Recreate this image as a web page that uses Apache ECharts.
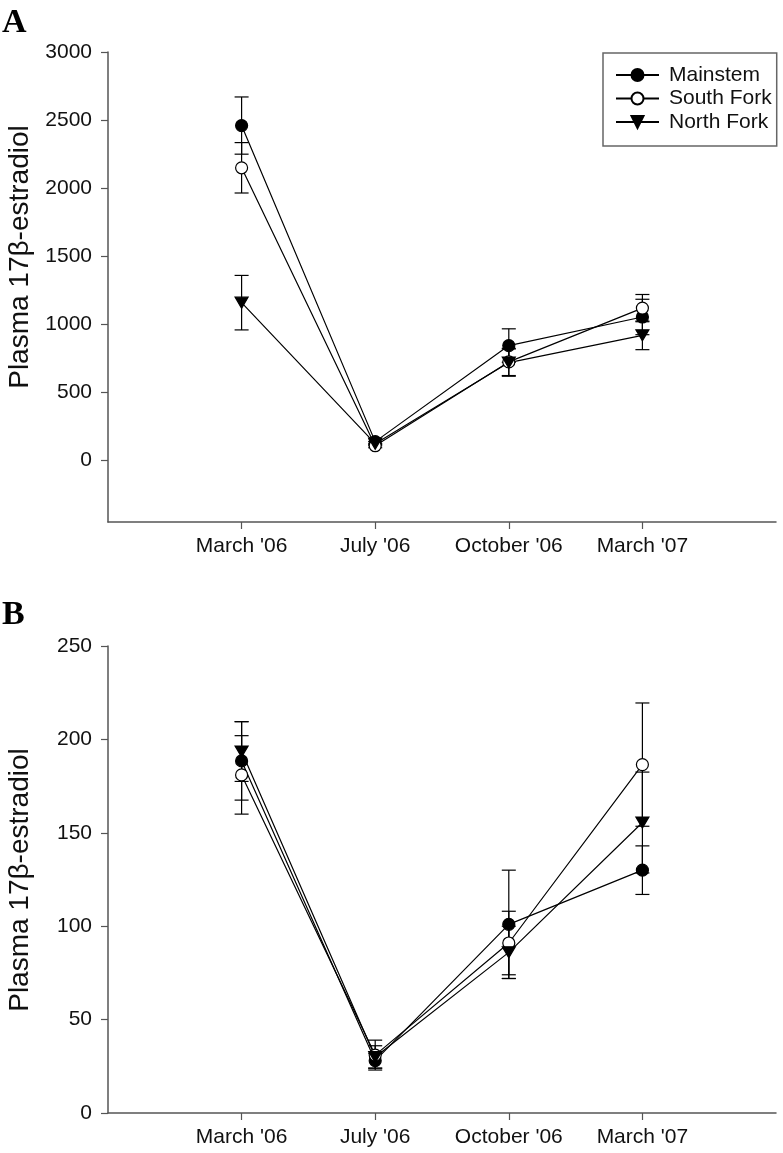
<!DOCTYPE html>
<html>
<head>
<meta charset="utf-8">
<script src="https://cdn.jsdelivr.net/npm/echarts@6/dist/echarts.min.js"></script>
<style>
html,body{margin:0;padding:0;background:#fff;}
#c{width:783px;height:1153px;}
</style>
</head>
<body>
<div id="c"></div>
<script>
const categories = ["March '06", "July '06", "October '06", "March '07"];
const seriesNames = ['Mainstem', 'South Fork', 'North Fork'];

// Panel A
const aMainstem = [2460, 140, 845, 1055];
const aMainstemErr = [210, 20, 123, 130];
const aSouthFork = [2150, 110, 725, 1120];
const aSouthForkErr = [185, 15, 100, 100];
const aNorthFork = [1160, 125, 720, 920];
const aNorthForkErr = [200, 15, 100, 105];
const aYTicks = [0, 500, 1000, 1500, 2000, 2500, 3000];

// Panel B
const bMainstem = [188.5, 28, 101, 130];
const bMainstemErr = [21, 4, 29, 13];
const bSouthFork = [181, 31, 91, 186.5];
const bSouthForkErr = [21, 8, 17, 33];
const bNorthFork = [193.5, 30, 86, 155.5];
const bNorthForkErr = [16, 6, 14, 27];
const bYTicks = [0, 50, 100, 150, 200, 250];

const yTitle = 'Plasma 17\u03b2-estradiol';
const FONT = 'Liberation Sans, Arial, Helvetica, sans-serif';
const xPos = categories.map((c, i) => i + 1);

const chart = echarts.init(document.getElementById('c'), null, {renderer: 'canvas'});

function xAxis(gi) {
  return {
    type: 'value', gridIndex: gi, min: 0, max: 5,
    axisLine: {show: true, onZero: false, lineStyle: {color: '#555', width: 1.5}},
    axisTick: {show: true, customValues: xPos, length: 7, inside: false, lineStyle: {color: '#555', width: 1.2}},
    axisLabel: {show: true, customValues: xPos, margin: 14, color: '#111', fontSize: 21, fontFamily: FONT,
      formatter: v => categories[Math.round(v) - 1] || ''},
    splitLine: {show: false}
  };
}
function yAxis(gi, min, max, ticks) {
  return {
    type: 'value', gridIndex: gi, min: min, max: max,
    axisLine: {show: true, lineStyle: {color: '#555', width: 1.5}},
    axisTick: {show: true, customValues: ticks, length: 7, lineStyle: {color: '#555', width: 1.2}},
    axisLabel: {show: true, customValues: ticks, margin: 16, color: '#111', fontSize: 21, fontFamily: FONT,
      formatter: v => String(v)},
    splitLine: {show: false}
  };
}

const symbols = [
  {symbol: 'circle', symbolSize: 12, symbolRotate: 0, fill: '#000'},
  {symbol: 'circle', symbolSize: 12, symbolRotate: 0, fill: '#fff'},
  {symbol: 'triangle', symbolSize: [13, 11], symbolRotate: 180, fill: '#000'}
];

function lineSeries(gi, idx, vals) {
  const s = symbols[idx];
  return {
    type: 'line', name: seriesNames[idx], xAxisIndex: gi, yAxisIndex: gi,
    data: vals.map((v, i) => [xPos[i], v]),
    symbol: s.symbol, symbolSize: s.symbolSize, symbolRotate: s.symbolRotate,
    showAllSymbol: true, animation: false, z: 5,
    lineStyle: {color: '#000', width: 1.2},
    itemStyle: {color: s.fill, borderColor: '#000', borderWidth: 1.2}
  };
}
function errSeries(gi, vals, errs) {
  return {
    type: 'custom', xAxisIndex: gi, yAxisIndex: gi, animation: false, z: 3,
    data: vals.map((v, i) => [xPos[i], v, errs[i]]),
    renderItem: function (params, api) {
      const x = api.value(0), y = api.value(1), e = api.value(2);
      const top = api.coord([x, y + e]);
      const bot = api.coord([x, y - e]);
      const hw = 7;
      const st = {stroke: '#000', lineWidth: 1.2};
      return {type: 'group', children: [
        {type: 'line', shape: {x1: top[0], y1: top[1], x2: bot[0], y2: bot[1]}, style: st},
        {type: 'line', shape: {x1: top[0] - hw, y1: top[1], x2: top[0] + hw, y2: top[1]}, style: st},
        {type: 'line', shape: {x1: bot[0] - hw, y1: bot[1], x2: bot[0] + hw, y2: bot[1]}, style: st}
      ]};
    }
  };
}

const option = {
  backgroundColor: '#fff',
  animation: false,
  grid: [
    {left: 108, top: 52, width: 668, height: 470},
    {left: 108, top: 646, width: 668, height: 467}
  ],
  xAxis: [xAxis(0), xAxis(1)],
  yAxis: [yAxis(0, -450, 3000, aYTicks), yAxis(1, 0, 250, bYTicks)],
  legend: {
    data: seriesNames, orient: 'vertical', left: 603, top: 53,
    padding: [11, 5, 13, 12], itemGap: 1.5, itemWidth: 43, itemHeight: 15,
    borderColor: '#666', borderWidth: 1.5, borderRadius: 0,
    textStyle: {fontSize: 21, fontFamily: FONT, color: '#111', lineHeight: 22, padding: [0, 0, 0, 5]}
  },
  graphic: [
    {type: 'text', left: 2, top: 6, style: {text: 'A', font: 'bold 34px "Liberation Serif", "Times New Roman", serif', fill: '#000'}},
    {type: 'text', left: 2, top: 598, style: {text: 'B', font: 'bold 34px "Liberation Serif", "Times New Roman", serif', fill: '#000'}},
    {type: 'text', x: 20, y: 257, rotation: Math.PI / 2, style: {text: yTitle, font: '28px ' + FONT, fill: '#111', textAlign: 'center', textVerticalAlign: 'middle'}},
    {type: 'text', x: 20, y: 880, rotation: Math.PI / 2, style: {text: yTitle, font: '28px ' + FONT, fill: '#111', textAlign: 'center', textVerticalAlign: 'middle'}}
  ],
  series: [
    errSeries(0, aMainstem, aMainstemErr),
    errSeries(0, aSouthFork, aSouthForkErr),
    errSeries(0, aNorthFork, aNorthForkErr),
    lineSeries(0, 0, aMainstem),
    lineSeries(0, 1, aSouthFork),
    lineSeries(0, 2, aNorthFork),
    errSeries(1, bMainstem, bMainstemErr),
    errSeries(1, bSouthFork, bSouthForkErr),
    errSeries(1, bNorthFork, bNorthForkErr),
    lineSeries(1, 0, bMainstem),
    lineSeries(1, 1, bSouthFork),
    lineSeries(1, 2, bNorthFork)
  ]
};
chart.setOption(option);
</script>
</body>
</html>
